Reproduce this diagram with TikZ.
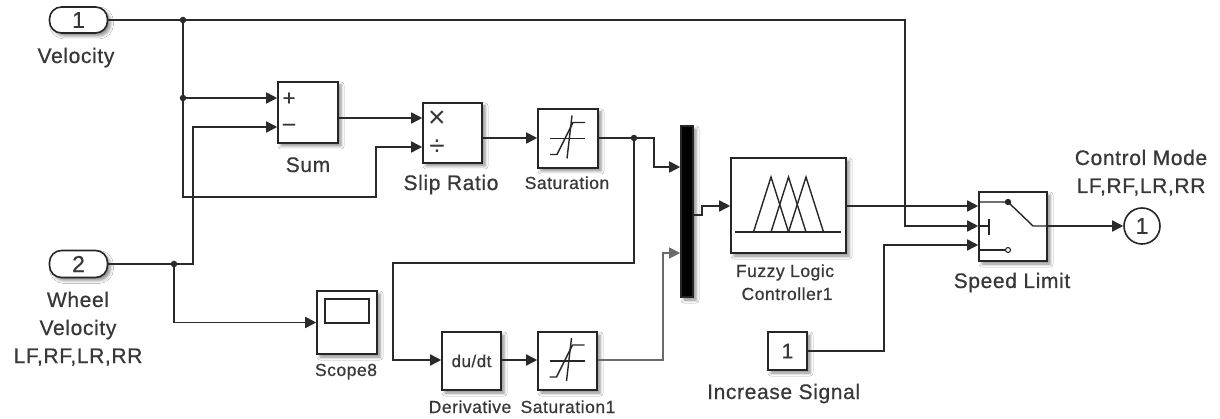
\documentclass[tikz,border=0pt]{standalone}
\usepackage{fontspec}
\newfontfamily\lblfont{Liberation Sans}[LetterSpace=3,FakeBold=0.6]
\newfontfamily\symfont{Liberation Sans}
\usetikzlibrary{arrows.meta,shadows.blur}
\definecolor{wirecol}{HTML}{2A2A2A}
\definecolor{txt}{HTML}{383838}
\tikzset{
  wire/.style={draw=wirecol, line width=1.7pt},
  thinwire/.style={draw=wirecol!70, line width=1.1pt},
  arr/.style={-{Triangle[length=11pt,width=11pt]}},
  blk/.style={draw=black!85, line width=1.6pt, fill=white, inner sep=0pt,
    blur shadow={shadow xshift=3pt, shadow yshift=-3pt, shadow blur radius=3pt, shadow opacity=45}},
  junc/.style={circle, fill=wirecol, inner sep=0pt, minimum size=6.5pt},
  icon/.style={draw=black!85, line width=1.4pt},
  lbl/.style={font=\lblfont\fontsize{21pt}{21pt}\selectfont, text=txt, inner sep=0pt, anchor=base},
  slbl/.style={font=\lblfont\fontsize{17.5pt}{17.5pt}\selectfont, text=txt, inner sep=0pt, anchor=base},
  numtxt/.style={font=\lblfont\fontsize{23pt}{23pt}\selectfont, text=txt},
  saticon/.pic={
    \draw[icon] (-18,0) -- (17,0);
    \draw[icon] (4,-23) -- (-1,20);
    \draw[icon] (-18,16) -- (-11,16) -- (5,-16) -- (17,-16);
  },
  fuzzyicon/.pic={
    \draw[icon] (-53.5,26.5) -- (52.5,26.5);
    \draw[icon] (-35,26.5) -- (-17.5,-28.5) -- (0,26.5);
    \draw[icon] (-17.5,26.5) -- (0,-28.5) -- (17.5,26.5);
    \draw[icon] (0,26.5) -- (17.5,-28.5) -- (35,26.5);
  },
}
\begin{document}
\begin{tikzpicture}[x=1pt,y=-1pt]
\fill[white] (0,0) rectangle (1220,419);
\useasboundingbox (0,0) rectangle (1220,419);

% blocks
\node[blk, rounded corners=12pt, minimum width=58pt, minimum height=26pt, numtxt] (in1) at (78.5,20) {1};
\node[blk, rounded corners=12pt, minimum width=58pt, minimum height=27pt, numtxt] (in2) at (78.5,264) {2};
\node[blk, minimum width=60pt, minimum height=61pt] (sum) at (308,112.5) {};
\node[blk, minimum width=59pt, minimum height=60pt] (slip) at (452.5,133) {};
\node[blk, minimum width=60pt, minimum height=59pt] (sat) at (568,138.5) {};
\node[blk, fill=black, minimum width=12pt, minimum height=171pt] (mux) at (687,211.5) {};
\node[blk, minimum width=115pt, minimum height=95pt] (fuz) at (788.5,205.5) {};
\node[blk, minimum width=68pt, minimum height=69pt] (sw) at (1013,226.5) {};
\node[draw=black!85, line width=1.6pt, circle, minimum size=36pt, inner sep=0pt, numtxt] (out) at (1142,226) {1};
\node[blk, minimum width=60pt, minimum height=63pt] (scope) at (347,322.5) {};
\node[blk, minimum width=59pt, minimum height=58pt, font=\lblfont\fontsize{17pt}{17pt}\selectfont, text=txt] (der) at (471.5,361) {du/dt};
\node[blk, minimum width=59pt, minimum height=58pt] (sat1) at (567.5,361) {};
\node[blk, minimum width=39pt, minimum height=38pt, font=\lblfont\fontsize{21pt}{21pt}\selectfont, text=txt] (const) at (787.5,351) {1};

% block contents
\node[font=\lblfont\fontsize{22pt}{22pt}\selectfont, text=txt, inner sep=0pt] (plus) at (289,99) {+};
\node[font=\lblfont\fontsize{22pt}{22pt}\selectfont, text=txt, inner sep=0pt] (minus) at (289,127) {–};
\node[font=\symfont\fontsize{30pt}{30pt}\selectfont, text=txt, inner sep=0pt] (times) at (437,119) {×};
\node[font=\symfont\fontsize{28pt}{28pt}\selectfont, text=txt, inner sep=0pt] (divide) at (437,148) {÷};
\pic at (sat.center) {saticon};
\pic at (sat1.center) {saticon};
\pic at (fuz.center) {fuzzyicon};
\draw[icon] (325,299) rectangle (369,323);
% switch icon
\draw[icon] (979,202) -- (1008,202) -- (1033,226) -- (1047,226);
\fill[black!85] (1008,202) circle (3.2pt);
\draw[icon] (979,226) -- (989,226);
\draw[icon] (989,219) -- (989,235);
\draw[icon] (979,250) -- (1005.5,250);
\draw[icon, line width=1.1pt] (1008,250) circle (2.5pt);

% junctions
\node[junc] (j1) at (183,20) {};
\node[junc] (j2) at (183,98) {};
\node[junc] (j3) at (174,264) {};
\node[junc] (j4) at (634,138) {};

% wires
\draw[wire,arr] (in1.east) -- (j1.center) -- (905,20) |- (sw.west |- 0,226);
\draw[wire,arr] (j1.center) -- (183,197) -| (376,147) -- (slip.west |- 0,147);
\draw[wire,arr] (j2.center) -- (sum.west |- 0,98);
\draw[wire,arr] (in2.east) -- (193,264) |- (sum.west |- 0,127);
\draw[wire,arr] (j3.center) |- (scope.west);
\draw[wire,arr] (sum.east |- 0,118) -- (slip.west |- 0,118);
\draw[wire,arr] (slip.east |- 0,138) -- (sat.west |- 0,138);
\draw[wire,arr] (sat.east |- 0,138) -- (654,138) |- (mux.west |- 0,167);
\draw[wire,arr] (j4.center) -- (634,263) -| (393,360) -- (der.west |- 0,360);
\draw[wire,arr] (der.east |- 0,360) -- (sat1.west |- 0,360);
\draw[thinwire,arr] (sat1.east |- 0,360) -| (663,253) -- (mux.west |- 0,253);
\draw[wire,arr] (mux.east |- 0,215) -- (702,215) |- (fuz.west |- 0,206);
\draw[wire,arr] (fuz.east |- 0,206) -- (sw.west |- 0,206);
\draw[wire,arr] (const.east) -- (884,351) |- (sw.west |- 0,245);
\draw[wire,arr] (sw.east |- 0,226) -- (out.west);

% labels
\node[lbl] (lvel) at (76,63) {Velocity};
\node[lbl] (lwh1) at (78,307) {Wheel};
\node[lbl] (lwh2) at (78,335) {Velocity};
\node[lbl] (lwh3) at (78,363) {LF,RF,LR,RR};
\node[lbl] (lsum) at (308,172) {Sum};
\node[lbl] (lslip) at (451,190) {Slip Ratio};
\node[slbl] (lsat) at (567,189) {Saturation};
\node[slbl] (lscope) at (346,376) {Scope8};
\node[slbl] (lder) at (470,413) {Derivative};
\node[slbl] (lsat1) at (568,413) {Saturation1};
\node[slbl] (lfuz1) at (785,277) {Fuzzy Logic};
\node[slbl] (lfuz2) at (787,300) {Controller1};
\node[lbl] (lsw) at (1012,288) {Speed Limit};
\node[lbl] (lcm1) at (1141,165) {Control Mode};
\node[lbl] (lcm2) at (1141,193) {LF,RF,LR,RR};
\node[lbl, anchor=base west] (linc) at (707,399) {Increase Signal};
\end{tikzpicture}
\end{document}
